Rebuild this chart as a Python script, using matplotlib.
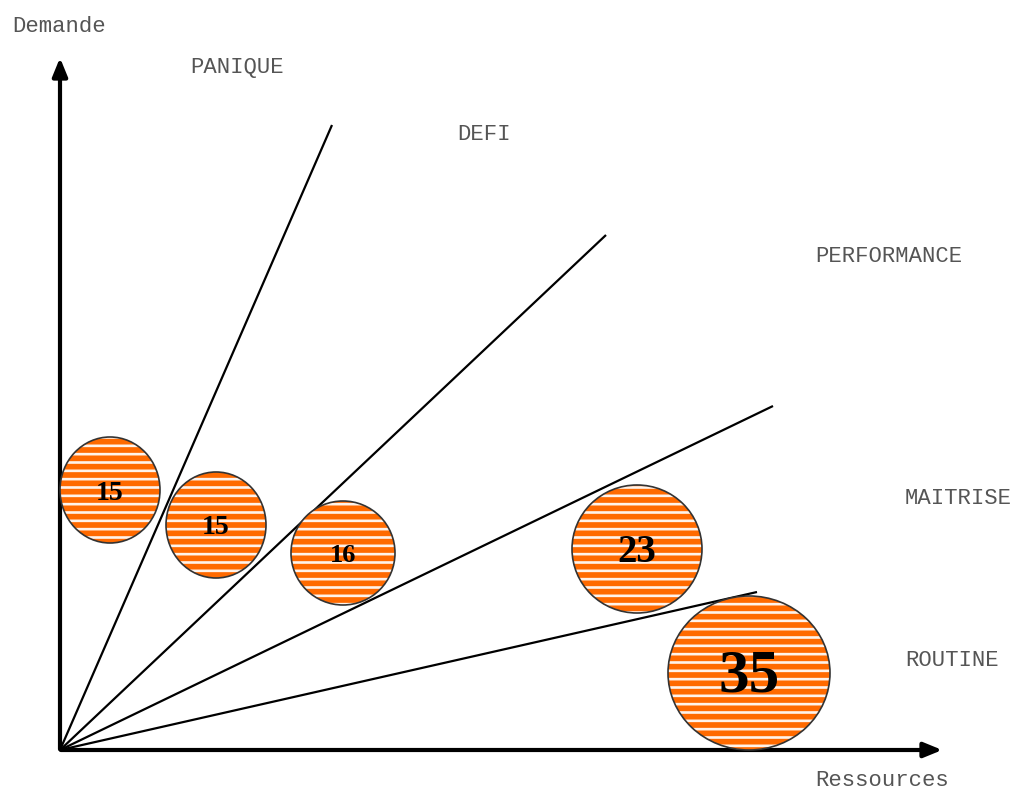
import matplotlib.pyplot as plt
from matplotlib.patches import Ellipse

plt.rcParams['hatch.linewidth'] = 1.9

# diagram drawn in image-like coordinates (x right, y down)
origin = (60, 750)

# end points of the zone boundaries
line_x = [332, 606, 773, 757]
line_y = [125, 235, 406, 592]

# zone names and where they sit
zones = ["PANIQUE", "DEFI", "PERFORMANCE", "MAITRISE", "ROUTINE"]
zone_x = [190, 457, 815, 905, 905]
zone_y = [68, 135, 256, 498, 660]

# bubbles: counts, centres and half sizes
counts = [15, 15, 16, 23, 35]
bub_x = [110, 216, 343, 637, 749]
bub_y = [490, 525, 553, 549, 673]
bub_w = [50, 50, 52, 65, 81]
bub_h = [53, 53, 52, 64, 77]
count_size = [20, 20, 19, 28, 44]

fig = plt.figure(figsize=(10.27, 7.9), dpi=100)
ax = fig.add_axes([0, 0, 1, 1])
ax.set_xlim(0, 1027)
ax.set_ylim(790, 0)
ax.axis('off')

# axes with arrows
ax.annotate("", xy=(60, 55), xytext=(60, 752),
            arrowprops=dict(arrowstyle="-|>,head_length=1.1,head_width=0.45", lw=3, color='black'))
ax.annotate("", xy=(945, 750), xytext=(58, 750),
            arrowprops=dict(arrowstyle="-|>,head_length=1.1,head_width=0.45", lw=3, color='black'))

for lx, ly in zip(line_x, line_y):
    ax.plot([origin[0], lx], [origin[1], ly], color='black', lw=1.6, solid_capstyle='butt')

for n, x, y, w, h, fs in zip(counts, bub_x, bub_y, bub_w, bub_h, count_size):
    ax.add_patch(Ellipse((x, y), 2 * w, 2 * h, facecolor='#ff6a00', edgecolor='#fff3ea',
                         hatch='--', lw=0, zorder=3))
    ax.add_patch(Ellipse((x, y), 2 * w, 2 * h, facecolor='none', edgecolor='#333333',
                         lw=1.2, zorder=4))
    ax.text(x, y + 3, str(n), ha='center', va='center', fontsize=fs, fontweight='bold',
            family='Liberation Serif', color='black', zorder=5)

mono = dict(family='Liberation Mono', color='#555555', fontsize=16, va='center', ha='left')
for name, x, y in zip(zones, zone_x, zone_y):
    ax.text(x, y, name, **mono)
ax.text(12, 27, "Demande", **mono)
ax.text(815, 781, "Ressources", **mono)

plt.savefig("out.png", dpi=100)
